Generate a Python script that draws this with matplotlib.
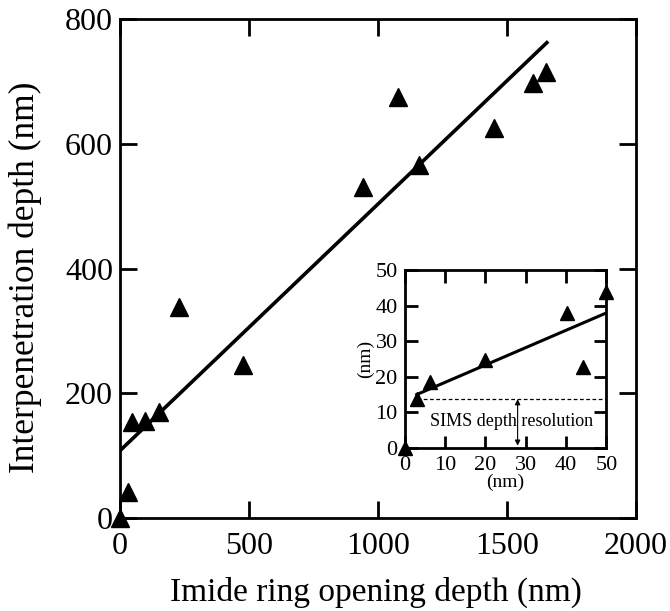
import numpy as np
import matplotlib.pyplot as plt

plt.rcParams['font.family'] = ['Liberation Serif', 'DejaVu Serif']

# main panel data (nm)
ring_depth = [0, 30, 45, 97, 151, 229, 477, 942, 1077, 1159, 1450, 1601, 1651]
interp_depth = [0, 42, 154, 156, 170, 339, 246, 531, 675, 566, 626, 697, 715]
fit_x = [0, 1655]
fit_y = [108, 762]

# inset data (nm)
in_x = [0, 3.0, 6.2, 20.0, 40.2, 44.1, 50.0]
in_y = [0, 13.7, 18.4, 24.8, 37.9, 22.7, 43.9]
in_fit_x = [3.0, 49.5]
in_fit_y = [15.0, 37.7]
sims_res = 13.7

fig = plt.figure(figsize=(6.7, 6.11), dpi=100)
ax = fig.add_axes([0.179, 0.152, 0.770, 0.817])

ax.plot(fit_x, fit_y, color='black', lw=2.6, zorder=2)
ax.plot(ring_depth, interp_depth, '^', color='black', ms=13.5, clip_on=False, zorder=3)
ax.set_xlim(0, 2000)
ax.set_ylim(0, 800)
ax.set_xticks([0, 500, 1000, 1500, 2000])
ax.set_yticks([0, 200, 400, 600, 800])
ax.tick_params(direction='in', length=12, width=2, top=True, right=True,
               labelsize=23, pad=5)
ax.tick_params(axis='x', pad=10)
for s in ax.spines.values():
    s.set_linewidth(2)
ax.set_xlabel('Imide ring opening depth (nm)', fontsize=24, va='center')
ax.set_ylabel('Interpenetration depth (nm)', fontsize=25.5, va='center')
ax.xaxis.set_label_coords(0.497, -0.148)
ax.yaxis.set_label_coords(-0.184, 0.483)

# inset
axi = fig.add_axes([0.604, 0.267, 0.301, 0.291])
axi.plot(in_fit_x, in_fit_y, color='black', lw=2.2, zorder=2)
axi.plot(in_x, in_y, '^', color='black', ms=9.5, clip_on=False, zorder=3)
axi.plot([in_fit_x[0], 50], [sims_res, sims_res], '--', color='black', lw=0.9, dashes=(3, 2))
axi.annotate('', xy=(28, 0.6), xytext=(28, sims_res),
             arrowprops=dict(arrowstyle='<|-|>', color='black', lw=0.8,
                             mutation_scale=8, shrinkA=0, shrinkB=0))
axi.text(26.5, 7.3, 'SIMS depth resolution', fontsize=13, ha='center', va='center')
axi.set_xlim(0, 50)
axi.set_ylim(0, 50)
axi.set_xticks([0, 10, 20, 30, 40, 50])
axi.set_yticks([0, 10, 20, 30, 40, 50])
axi.tick_params(direction='in', length=9, width=2, top=True, right=True,
                labelsize=16, pad=5)
axi.tick_params(axis='x', pad=6)
for s in axi.spines.values():
    s.set_linewidth(2)
axi.set_xlabel('(nm)', fontsize=14, labelpad=-1)
axi.set_ylabel('(nm)', fontsize=14, labelpad=1)

fig.savefig('out.png', dpi=100)
